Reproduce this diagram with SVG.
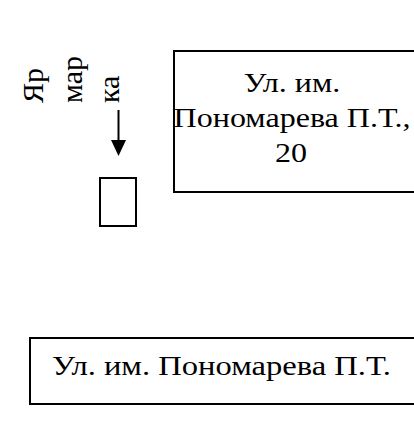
<svg xmlns="http://www.w3.org/2000/svg" width="414" height="439" viewBox="0 0 414 439">
<style>
.box{fill:#fff;stroke:#000;stroke-width:2}
.t{font-family:"Liberation Serif","Times New Roman",serif;font-size:30px;fill:#000}
.h{font-family:"Liberation Serif","Times New Roman",serif;font-size:26.5px;fill:#000}
.c{text-anchor:middle}
</style>
<rect width="414" height="439" fill="#fff"/>
<g id="label-yarmarka">
<text class="t" transform="translate(43,103) rotate(-90)">Яр</text>
<text class="t" transform="translate(82,103) rotate(-90)">мар</text>
<text class="t" transform="translate(119,103) rotate(-90)">ка</text>
</g>
<g id="node-fair">
<rect class="box" x="100" y="178" width="36" height="48"/>
</g>
<g id="node-street-20">
<rect class="box" x="174" y="51" width="250" height="141"/>
<text class="h c" transform="translate(292,92) scale(1.21,1)">Ул. им.</text>
<text class="h c" transform="translate(292,127) scale(1.21,1)">Пономарева П.Т.,</text>
<text class="h c" transform="translate(291,162) scale(1.21,1)">20</text>
</g>
<g id="node-street">
<rect class="box" x="30" y="338" width="400" height="66"/>
<text class="h" transform="translate(52,375) scale(1.23,1)">Ул. им. Пономарева П.Т.</text>
</g>
<g id="connectors">
<line x1="118.5" y1="110" x2="118.5" y2="141" stroke="#000" stroke-width="2"/>
<polygon points="111,140 126,140 118.5,156" fill="#000"/>
</g>
</svg>
